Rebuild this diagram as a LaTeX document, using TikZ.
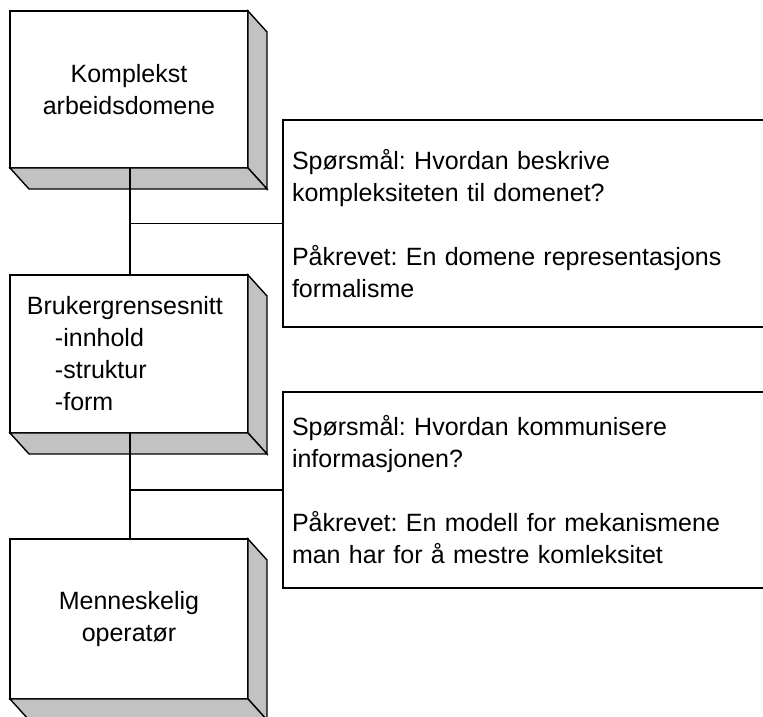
\documentclass[tikz,border=0pt]{standalone}
\usepackage{fontspec}
\setmainfont{Liberation Sans}
\frenchspacing
\begin{document}
\begin{tikzpicture}[x=1pt,y=1pt,
  every node/.style={font=\fontsize{25}{32}\selectfont, outer sep=0pt},
  front/.style={draw, line width=1.4pt, fill=white, minimum width=238pt, inner sep=0pt},
  face/.style={draw, line width=1.4pt, fill=black!24, line join=miter},
  link/.style={line width=1.4pt},
  notebox/.style={draw, line width=1.4pt, anchor=west, minimum width=490pt,
    text width=472pt, inner xsep=9pt, align=left}]
\useasboundingbox (0,0) rectangle (763,717);

% front faces of the three blocks
\node[front, minimum height=157pt, align=center] (dom) at (129,627.5)
  {Komplekst\\arbeidsdomene};
\node[front, minimum height=158pt, text width=204pt, inner xsep=17pt, align=left] (ui) at (129,363)
  {Brukergrensesnitt\\\hspace*{28pt}-innhold\\\hspace*{28pt}-struktur\\\hspace*{28pt}-form};
\node[front, minimum height=160pt, align=center] (op) at (129,98)
  {Menneskelig\\operatør};

% side and bottom faces giving the blocks depth
\foreach \n in {dom,ui,op}{
  \draw[face] (\n.north east) -- ++(19,-21) -- ([shift={(19,-21)}]\n.south east)
    -- (\n.south east) -- cycle;
  \draw[face] (\n.south west) -- ++(19,-21) -- ([shift={(19,-21)}]\n.south east)
    -- (\n.south east) -- cycle;
}

% question notes
\node[notebox, minimum height=207pt] (q1) at (283,493.5)
  {Spørsmål: Hvordan beskrive\\kompleksiteten til domenet?\\[32pt]Påkrevet: En domene representasjons\\formalisme};
\node[notebox, minimum height=196pt] (q2) at (283,227)
  {Spørsmål: Hvordan kommunisere\\informasjonen?\\[32pt]Påkrevet: En modell for mekanismene\\man har for å mestre komleksitet};

% chain between the blocks and branches to the notes
\coordinate (j1) at (130,493.5);
\coordinate (j2) at (130,227);
\draw[link] (dom.south -| j1) -- (ui.north -| j1);
\draw[link] (ui.south -| j2) -- (op.north -| j2);
\draw[link] (j1) -- (q1.west);
\draw[link] (j2) -- (q2.west);
\end{tikzpicture}
\end{document}
